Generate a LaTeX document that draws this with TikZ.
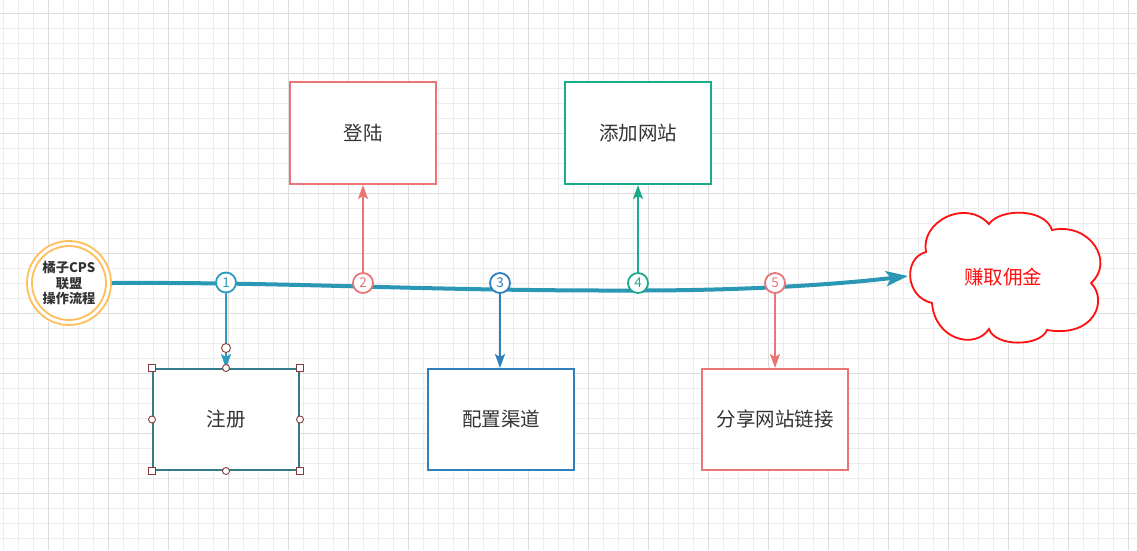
\documentclass[tikz,border=0pt]{standalone}
\usepackage{fontspec}
\setmainfont{Noto Sans CJK SC}
\usetikzlibrary{arrows.meta}
\definecolor{gridminor}{HTML}{EDEDED}
\definecolor{gridmajor}{HTML}{DDDDDD}
\definecolor{mainline}{HTML}{2A97B5}
\definecolor{cone}{HTML}{2C9BC0}
\definecolor{salmon}{HTML}{E97676}
\definecolor{cblue}{HTML}{2F80BD}
\definecolor{cgreen}{HTML}{1AAB8C}
\definecolor{startorange}{HTML}{FFBE5C}
\definecolor{txt}{HTML}{333333}
\definecolor{handlec}{HTML}{8B3A3A}
\definecolor{zhucec}{HTML}{35798C}
\definecolor{cloudred}{HTML}{FF1010}
\begin{document}
\begin{tikzpicture}[x=1pt,y=-1pt,
  minorgrid/.style={draw=gridminor,line width=1pt},
  majorgrid/.style={draw=gridmajor,line width=1pt},
  stepbox/.style={rectangle,line width=2pt,fill=white,minimum width=146pt,minimum height=101pt,inner sep=0pt,text=txt,font=\fontsize{19.5}{23}\selectfont},
  numc/.style={circle,line width=1.8pt,fill=white,minimum size=20pt,inner sep=0pt,font=\fontsize{13.5}{13.5}\selectfont},
  conn/.style={line width=2pt,-{Stealth[length=14pt,width=10pt,inset=3pt]}},
  mainln/.style={draw=mainline,line width=4pt,-{Stealth[length=22pt,width=15pt,inset=5pt]}},
  hsq/.style={draw=handlec,fill=white,line width=0.9pt},
]
\useasboundingbox (0,0) rectangle (1137,550);
\fill[white] (0,0) rectangle (1137,550);
% grid
\foreach \x in {3,18,...,1137} \draw[minorgrid] (\x,0) -- (\x,550);
\foreach \y in {13,28,...,550} \draw[minorgrid] (0,\y) -- (1137,\y);
\foreach \x in {48,108,...,1137} \draw[majorgrid] (\x,0) -- (\x,550);
\foreach \y in {13,73,...,550} \draw[majorgrid] (0,\y) -- (1137,\y);

% start circle
\node[circle,draw=startorange,line width=1.8pt,fill=white,minimum size=84pt,inner sep=0pt] (start) at (69,283) {};
\node[circle,draw=startorange,line width=1.8pt,minimum size=74pt,inner sep=0pt] (startin) at (69,283) {};
\node[align=center,text=txt,font=\bfseries\fontsize{13.2}{15.8}\selectfont] (starttxt) at (69,283) {橘子CPS\\联盟\\操作流程};

% cloud
\coordinate (cloudW) at (908,276);
\draw[draw=cloudred,line width=1.8pt,fill=white]
  (932,303) .. controls (905,297) and (903,258) .. (926,252)
  .. controls (920,222) and (965,198) .. (989,224)
  .. controls (1000,208) and (1045,208) .. (1052,230)
  .. controls (1090,222) and (1115,262) .. (1091,283)
  .. controls (1108,300) and (1095,338) .. (1047,330)
  .. controls (1040,347) and (995,347) .. (989,329)
  .. controls (975,350) and (935,340) .. (932,303) -- cycle;
\node[text=cloudred,font=\fontsize{19.5}{23}\selectfont] (cloud) at (1003,277) {赚取佣金};

% main line
\draw[mainln] (start.east) .. controls (300,282) and (420,291) .. (637,290.5)
  .. controls (760,290.5) and (850,283) .. (cloudW);

% boxes
\node[stepbox,draw=salmon,minimum height=102pt] (denglu) at (363,133) {登陆};
\node[stepbox,draw=cgreen,minimum height=102pt] (tianjia) at (638,133) {添加网站};
\node[stepbox,draw=zhucec] (zhuce) at (226,419.5) {注册};
\node[stepbox,draw=cblue] (peizhi) at (501,419.5) {配置渠道};
\node[stepbox,draw=salmon] (fenxiang) at (775,419.5) {分享网站链接};

% numbered circles
\node[numc,draw=cone,text=cone] (n1) at (226,282.5) {1};
\node[numc,draw=salmon,text=salmon] (n2) at (363,283) {2};
\node[numc,draw=cblue,text=cblue] (n3) at (500,283) {3};
\node[numc,draw=cgreen,text=cgreen] (n4) at (638,283) {4};
\node[numc,draw=salmon,text=salmon] (n5) at (775,283) {5};

% connectors
\draw[conn,cone] (n1.south) -- (n1.south |- zhuce.north);
\draw[conn,salmon] (n2.north) -- (n2.north |- denglu.south);
\draw[conn,cblue] (n3.south) -- (n3.south |- peizhi.north);
\draw[conn,cgreen] (n4.north) -- (n4.north |- tianjia.south);
\draw[conn,salmon] (n5.south) -- (n5.south |- fenxiang.north);

% selection handles on 注册
\foreach \a in {north west,north east,south west,south east}
  \draw[hsq] ([shift={(-3.5,-3.5)}]zhuce.\a) rectangle ++(7,7);
\foreach \a in {north,south,east,west}
  \draw[hsq] (zhuce.\a) circle (3.5);
\draw[hsq] ([yshift=20pt]zhuce.north) circle (4.5);
\end{tikzpicture}
\end{document}
